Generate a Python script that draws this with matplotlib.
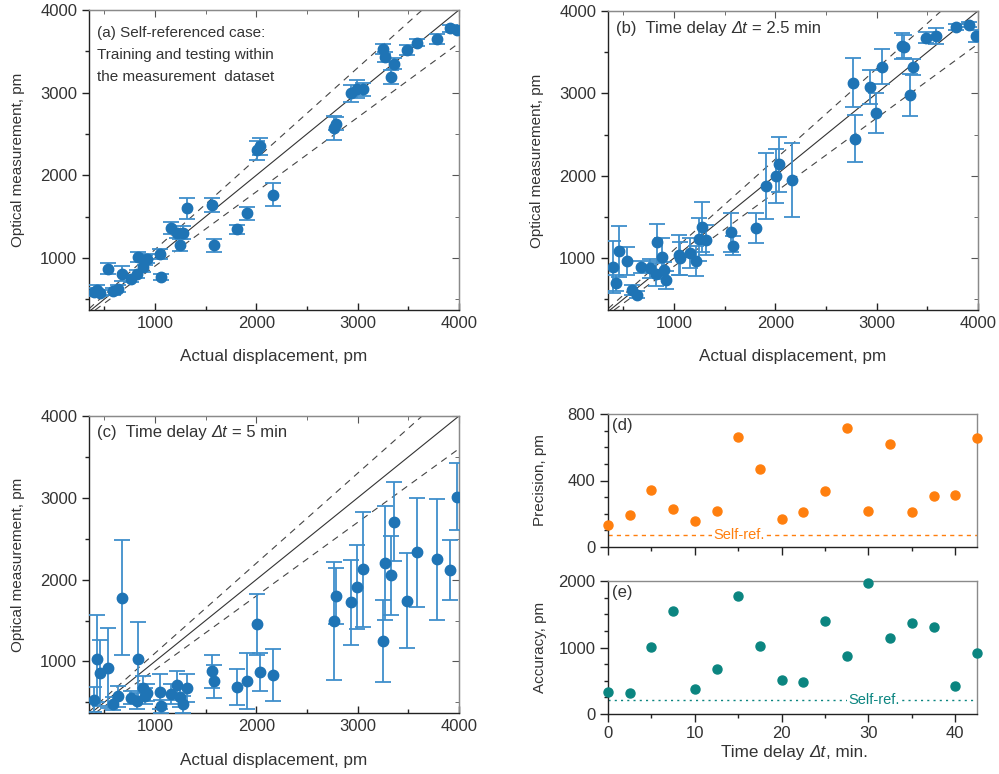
import matplotlib
matplotlib.use('Agg')
import matplotlib.pyplot as plt
from matplotlib.ticker import MultipleLocator
from matplotlib.offsetbox import TextArea, HPacker, AnchoredOffsetbox

plt.rcParams['font.family'] = ['Liberation Sans', 'DejaVu Sans']

# ---------------- data ----------------
actual = [395, 428, 462, 540, 585, 638, 672, 760, 820, 836, 887, 905, 920,
          1050, 1062, 1158, 1217, 1248, 1282, 1312, 1568, 1587, 1808, 1906,
          2005, 2040, 2163, 2766, 2787, 2931, 2995, 3050, 3250, 3272, 3328,
          3354, 3485, 3590, 3782, 3913, 3985]

meas_a = [587, 607, 574, 870, 595, 627, 809, 749, 809, 1012, 891, 972, 992,
          1053, 769, 1365, 1296, 1154, 1304, 1600, 1640, 1154, 1345, 1539,
          2301, 2350, 1766, 2573, 2625, 2990, 3047, 3039, 3533, 3432, 3189,
          3351, 3513, 3606, 3647, 3777, 3756]
err_a = [50, 60, 40, 70, 40, 40, 90, 40, 50, 60, 60, 60, 50, 60, 40, 70, 60,
         70, 80, 130, 90, 80, 50, 80, 110, 100, 140, 150, 80, 100, 110, 80,
         60, 60, 80, 70, 60, 40, 60, 40, 30]

meas_b = [895, 697, 1081, 968, 616, 555, 895, 875, 802, 1190, 1008, 850, 733,
          1036, 1000, 1061, 968, 1230, 1380, 1218, 1311, 1150, 1364, 1877,
          1999, 2141, 1950, 3131, 2452, 3078, 2767, 3325, 3576, 3564, 2981,
          3321, 3677, 3697, 3806, 3831, 3697]
err_b = [318, 100, 310, 170, 60, 40, 70, 120, 140, 230, 237, 100, 110, 243,
         200, 180, 180, 260, 300, 180, 235, 113, 182, 400, 327, 335, 453, 300,
         290, 210, 243, 216, 155, 140, 253, 100, 70, 97, 40, 30, 70]

meas_c = [534, 1032, 858, 919, 482, 575, 1781, 555, 514, 1028, 676, 575, 620,
          632, 453, 603, 709, 567, 474, 676, 879, 757, 684, 765, 1453, 874,
          838, 1494, 1802, 1721, 1911, 2126, 1251, 2206, 2053, 2709, 1745,
          2332, 2247, 2121, 3016]
err_c = [150, 530, 400, 490, 80, 130, 700, 80, 100, 460, 150, 100, 100, 210,
         80, 120, 180, 120, 100, 170, 200, 200, 220, 340, 375, 230, 318, 723,
         340, 525, 515, 700, 500, 700, 485, 485, 585, 668, 735, 365, 415]

delay = [0, 2.5, 5, 7.5, 10, 12.5, 15, 17.5, 20, 22.5, 25, 27.5, 30, 32.5,
         35, 37.5, 40, 42.5]
precision = [134, 190, 342, 230, 154, 216, 664, 470, 168, 210, 336, 718, 218,
             622, 210, 304, 312, 656]
accuracy = [330, 320, 1015, 1545, 375, 670, 1780, 1025, 515, 475, 1400, 865,
            1970, 1145, 1365, 1310, 425, 920]
self_ref_precision = 72
self_ref_accuracy = 215

# ---------------- styles ----------------
BLUE = '#1f74b5'
EBLUE = '#3f8fcb'
ORANGE = '#ff7f0e'
TEAL = '#0b8580'
TXT = '#333333'
TICK_FS = 12
W, H = 999, 774

fig = plt.figure(figsize=(W / 100, H / 100), dpi=100)


def px_axes(l, t, r, b):
    return fig.add_axes([l / W, 1 - b / H, (r - l) / W, (b - t) / H])


def rich_text(ax, segs, x, y, loc, size):
    """segs: list of (text, italic, separation before it in points)."""
    box = None
    for txt, ital, sep in segs:
        ta = TextArea(txt, textprops=dict(fontsize=size, color=TXT,
                                          fontstyle='italic' if ital else 'normal'))
        if box is None:
            box = ta
        else:
            box = HPacker(children=[box, ta], align='baseline', pad=0, sep=sep)
    ab = AnchoredOffsetbox(loc=loc, child=box, pad=0, borderpad=0, frameon=False,
                           bbox_to_anchor=(x, y), bbox_transform=ax.transAxes)
    ab.set_zorder(5)
    ax.add_artist(ab)


def style_spines(ax):
    ax.spines['left'].set_color('#222222')
    ax.spines['bottom'].set_color('#222222')
    ax.spines['top'].set_color('#8a8a8a')
    ax.spines['right'].set_color('#8a8a8a')
    for s in ax.spines.values():
        s.set_linewidth(1.0)


def scatter_panel(ax, y, e, xlab_y):
    ax.set_xlim(350, 4000)
    ax.set_ylim(370, 4000)
    ax.axline((0, 0), slope=1.0, color='#333333', lw=0.8, zorder=1)
    ax.axline((0, 0), slope=1.1, color='#444444', lw=0.8, ls=(0, (6, 5)), zorder=1)
    ax.axline((0, 0), slope=0.9, color='#444444', lw=0.8, ls=(0, (6, 5)), zorder=1)
    ax.errorbar(actual, y, yerr=e, fmt='o', ms=7.5, color=BLUE, mec=BLUE,
                ecolor=EBLUE, elinewidth=1.3, capsize=5.5, capthick=1.3, zorder=3)
    ax.xaxis.set_major_locator(MultipleLocator(1000))
    ax.xaxis.set_minor_locator(MultipleLocator(500))
    ax.yaxis.set_major_locator(MultipleLocator(1000))
    ax.yaxis.set_minor_locator(MultipleLocator(500))
    ax.tick_params(axis='x', which='both', direction='in', bottom=True, top=False,
                   labelsize=TICK_FS, labelcolor=TXT, color='#222222', pad=4)
    ax.tick_params(axis='y', which='both', direction='out', left=True, right=False,
                   labelsize=TICK_FS, labelcolor=TXT, color='#222222')
    ax.tick_params(which='major', length=5, width=1)
    ax.tick_params(which='minor', length=3, width=1)
    sec_x = ax.secondary_xaxis('top')
    sec_x.xaxis.set_major_locator(MultipleLocator(1000))
    sec_x.xaxis.set_minor_locator(MultipleLocator(500))
    sec_x.tick_params(which='both', direction='in', labeltop=False, color='#555555')
    sec_x.tick_params(which='major', length=5)
    sec_x.tick_params(which='minor', length=3)
    sec_x.spines['top'].set_color('#8a8a8a')
    sec_y = ax.secondary_yaxis('right')
    sec_y.yaxis.set_major_locator(MultipleLocator(1000))
    sec_y.yaxis.set_minor_locator(MultipleLocator(500))
    sec_y.tick_params(which='both', direction='in', labelright=False, color='#555555')
    sec_y.tick_params(which='major', length=5)
    sec_y.tick_params(which='minor', length=3)
    sec_y.spines['right'].set_color('#8a8a8a')
    style_spines(ax)
    ax.set_xlabel('Actual displacement, pm', fontsize=12.3, color=TXT)
    ax.xaxis.set_label_coords(0.5, xlab_y)
    ax.set_ylabel('Optical measurement, pm', fontsize=11, color=TXT)
    ax.yaxis.set_label_coords(-0.173, 0.5)


ax_a = px_axes(89, 10, 459, 310)
scatter_panel(ax_a, meas_a, err_a, -0.13)
ax_a.text(0.022, 0.945, '(a) Self-referenced case:\nTraining and testing within\nthe measurement  dataset',
          transform=ax_a.transAxes, ha='left', va='top', fontsize=11, color=TXT,
          linespacing=1.7)

ax_b = px_axes(608, 11, 978, 310)
scatter_panel(ax_b, meas_b, err_b, -0.13)
rich_text(ax_b, [('(b)  Time delay', False, 0), ('Δt', True, 3.4),
                 ('= 2.5 min', False, 3.4)], 0.022, 0.965, 'upper left', 12)

ax_c = px_axes(89, 416, 459, 713)
scatter_panel(ax_c, meas_c, err_c, -0.135)
rich_text(ax_c, [('(c)  Time delay', False, 0), ('Δt', True, 3.4),
                 ('= 5 min', False, 3.4)], 0.022, 0.97, 'upper left', 12)


def small_panel(ax, y, color, ylim, major, minor, ref, ref_ls, ylabel, tag, ref_x,
                xlabels=True):
    ax.set_xlim(0, 42.5)
    ax.set_ylim(*ylim)
    ax.plot(delay, y, 'o', ms=6.5, color=color, clip_on=False, zorder=3)
    ax.axhline(ref, color=color, lw=1.0, ls=ref_ls, zorder=1)
    ax.text(ref_x, ref, 'Self-ref.', color=color, fontsize=10.5, ha='center',
            va='center', zorder=2,
            bbox=dict(facecolor='white', edgecolor='none', pad=1.0))
    ax.xaxis.set_major_locator(MultipleLocator(10))
    ax.xaxis.set_minor_locator(MultipleLocator(5))
    ax.yaxis.set_major_locator(MultipleLocator(major))
    ax.yaxis.set_minor_locator(MultipleLocator(minor))
    ax.tick_params(which='both', direction='out', top=False, right=False,
                   labelsize=TICK_FS, labelcolor=TXT, color='#222222')
    ax.tick_params(which='major', length=5.5, width=1)
    ax.tick_params(which='minor', length=3, width=1)
    if not xlabels:
        ax.tick_params(axis='x', labelbottom=False)
    style_spines(ax)
    ax.set_ylabel(ylabel, fontsize=11, color=TXT)
    ax.yaxis.set_label_coords(-0.165, 0.5)
    ax.text(0.012, 0.97, tag, transform=ax.transAxes, ha='left', va='top',
            fontsize=12, color=TXT)


ax_d = px_axes(608, 414, 977, 547)
small_panel(ax_d, precision, ORANGE, (0, 800), 400, 100, self_ref_precision,
            (0, (3, 3)), 'Precision, pm', '(d)', 15.1, xlabels=False)

ax_e = px_axes(608, 581, 977, 714)
small_panel(ax_e, accuracy, TEAL, (0, 2000), 1000, 250, self_ref_accuracy,
            (0, (1.5, 3)), 'Accuracy, pm', '(e)', 30.6)
rich_text(ax_e, [('Time delay', False, 0), ('Δt', True, 3.4),
                 (', min.', False, 0)], 0.505, -0.235, 'upper center', 12.3)

fig.savefig('out.png', dpi=100)
